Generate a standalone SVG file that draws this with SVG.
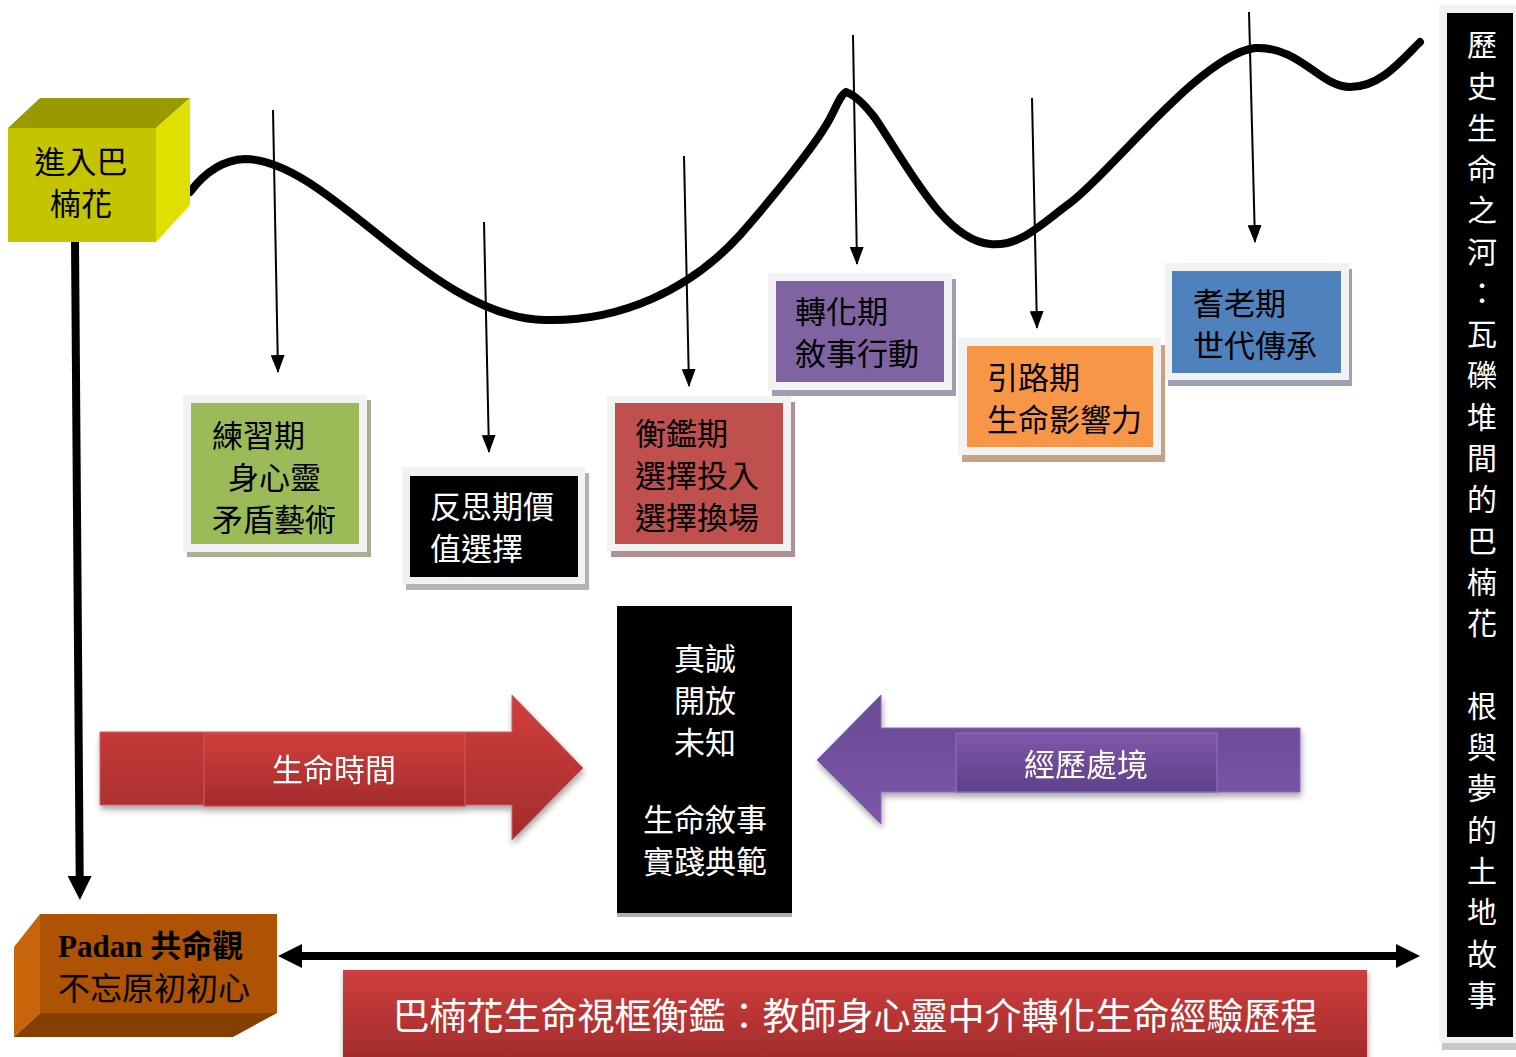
<svg xmlns="http://www.w3.org/2000/svg" width="1516" height="1057" viewBox="0 0 1516 1057">
<style>
.t{font-family:"Noto Sans CJK TC","Noto Sans CJK SC",sans-serif;font-size:31px}
.k{fill:#000}
.w{fill:#fff}
.frame{fill:#f2f2f2}
.thin{stroke:#000;stroke-width:2;fill:none}
.thick{stroke:#000;stroke-width:8;fill:none}
</style>
<defs>
<marker id="ah" viewBox="0 0 18 14" refX="17" refY="7" markerWidth="18" markerHeight="14" orient="auto" markerUnits="userSpaceOnUse"><path d="M0,0 L18,7 L0,14 z" fill="#000"/></marker>
<marker id="ahb" viewBox="0 0 24 24" refX="2" refY="12" markerWidth="24" markerHeight="24" orient="auto-start-reverse" markerUnits="userSpaceOnUse"><path d="M0,0 L24,12 L0,24 z" fill="#000"/></marker>
<linearGradient id="gRed" x1="0" y1="0" x2="0" y2="1"><stop offset="0" stop-color="#d03f3d"/><stop offset="1" stop-color="#a32b2b"/></linearGradient>
<linearGradient id="gPur" x1="0" y1="0" x2="0" y2="1"><stop offset="0" stop-color="#7f58aa"/><stop offset="1" stop-color="#5f4088"/></linearGradient>
<linearGradient id="gPurHead" x1="0" y1="0" x2="0" y2="1"><stop offset="0" stop-color="#6a4a95"/><stop offset="1" stop-color="#7c56aa"/></linearGradient>
<linearGradient id="gBan" x1="0" y1="0" x2="0" y2="1"><stop offset="0" stop-color="#cf3f3e"/><stop offset="1" stop-color="#a02a2a"/></linearGradient>
<filter id="sh" x="-10%" y="-10%" width="125%" height="135%"><feDropShadow dx="1" dy="4" stdDeviation="3" flood-color="#000" flood-opacity="0.35"/></filter>
</defs>

<g id="connectors">
<path class="thick" stroke-width="7" stroke-linecap="round" d="M190,192 C205,172 222,160 245,159 C330,160 430,318 545,320 C620,322 690,290 740,235 C775,195 815,145 828,122 C835,110 840,95 846,92 C855,95 865,105 875,118 C910,170 945,240 990,244 C1020,247 1040,225 1070,203 C1110,174 1200,55 1255,48 C1300,46 1320,87 1350,87 C1380,87 1400,62 1420,42"/>
<line class="thin" x1="273" y1="110" x2="278" y2="372" marker-end="url(#ah)"/>
<line class="thin" x1="484" y1="222" x2="489" y2="452" marker-end="url(#ah)"/>
<line class="thin" x1="684" y1="156" x2="689" y2="386" marker-end="url(#ah)"/>
<line class="thin" x1="853" y1="35" x2="857" y2="264" marker-end="url(#ah)"/>
<line class="thin" x1="1032" y1="98" x2="1037" y2="328" marker-end="url(#ah)"/>
<line class="thin" x1="1249" y1="12" x2="1255" y2="242" marker-end="url(#ah)"/>
<line class="thick" x1="75" y1="240" x2="79.7" y2="878" marker-end="url(#ahb)"/>
<line class="thick" x1="300" y1="956" x2="1398" y2="956" marker-start="url(#ahb)" marker-end="url(#ahb)"/>
</g>

<g id="node-enter">
<polygon points="8,128 40,98 190,98 156,128" fill="#999900"/>
<polygon points="156,128 190,98 190,205 156,242" fill="#e0e000"/>
<rect x="8" y="128" width="148" height="114" fill="#c4c400"/>
<text class="t k" x="81" y="173" text-anchor="middle">進入巴</text>
<text class="t k" x="81" y="215" text-anchor="middle">楠花</text>
</g>

<g id="node-padan">
<polygon points="14,947 40,914 40,1013 14,1037" fill="#c8650b"/>
<polygon points="40,1013 277,1013 233,1037 14,1037" fill="#854000"/>
<rect x="40" y="914" width="237" height="99" fill="#ae5203"/>
<text x="58" y="957" font-size="31" font-weight="bold" font-family="'Liberation Serif','Noto Sans CJK TC',serif" fill="#000">Padan <tspan font-family="'Noto Sans CJK TC',sans-serif">共命觀</tspan></text>
<text class="t k" x="58" y="1000" style="font-size:32px">不忘原初初心</text>
</g>

<g id="node-practice">
<rect x="187" y="400" width="184" height="157" fill="#a8b090"/>
<rect class="frame" x="183" y="395" width="184" height="157"/>
<rect x="191" y="403" width="168" height="141" fill="#9bbb59"/>
<text class="t k" x="212" y="447">練習期</text>
<text class="t k" x="228" y="489">身心靈</text>
<text class="t k" x="212" y="531">矛盾藝術</text>
</g>

<g id="node-reflect">
<rect x="406" y="473" width="183" height="117" fill="#b4b4b4"/>
<rect class="frame" x="402" y="467" width="183" height="117"/>
<rect x="410" y="476" width="168" height="101" fill="#000"/>
<text class="t w" x="430" y="518">反思期價</text>
<text class="t w" x="430" y="560">值選擇</text>
</g>

<g id="node-balance">
<rect x="611" y="402" width="184" height="155" fill="#b09090"/>
<rect class="frame" x="607" y="396" width="184" height="155"/>
<rect x="615" y="403" width="168" height="141" fill="#c0504d"/>
<text class="t k" x="635" y="445">衡鑑期</text>
<text class="t k" x="635" y="487">選擇投入</text>
<text class="t k" x="635" y="529">選擇換場</text>
</g>

<g id="node-transform">
<rect x="772" y="279" width="184" height="117" fill="#a29cb2"/>
<rect class="frame" x="768" y="273" width="184" height="117"/>
<rect x="776" y="281" width="168" height="101" fill="#8064a2"/>
<text class="t k" x="795" y="323">轉化期</text>
<text class="t k" x="795" y="365">敘事行動</text>
</g>

<g id="node-guide">
<rect x="962" y="345" width="203" height="117" fill="#c9a184"/>
<rect class="frame" x="958" y="338" width="203" height="117"/>
<rect x="967" y="346" width="186" height="101" fill="#f79646"/>
<text class="t k" x="987" y="389">引路期</text>
<text class="t k" x="987" y="431">生命影響力</text>
</g>

<g id="node-elder">
<rect x="1168" y="269" width="184" height="117" fill="#9aa2b4"/>
<rect class="frame" x="1165" y="263" width="184" height="117"/>
<rect x="1172" y="271" width="169" height="102" fill="#4f81bd"/>
<text class="t k" x="1193" y="315">耆老期</text>
<text class="t k" x="1193" y="357">世代傳承</text>
</g>

<g id="node-center">
<rect x="617" y="610" width="175" height="307" fill="#b0b0b0"/>
<rect x="617" y="606" width="175" height="307" fill="#000"/>
<g class="t w" text-anchor="middle">
<text x="705" y="670">真誠</text>
<text x="705" y="712">開放</text>
<text x="705" y="754">未知</text>
<text x="705" y="831">生命敘事</text>
<text x="705" y="873">實踐典範</text>
</g>
</g>

<g id="node-lifetime" filter="url(#sh)">
<polygon points="100,732 512,732 512,695 583,768 512,840 512,805 100,805" fill="url(#gRed)" stroke="#d06060" stroke-width="1"/>
<rect x="204" y="733" width="261" height="73" fill="url(#gRed)" stroke="#c85050" stroke-width="1.5"/>
<text class="t w" x="334" y="781" text-anchor="middle">生命時間</text>
</g>

<g id="node-experience" filter="url(#sh)">
<polygon points="1300,728 881,728 881,695 817,760 881,824 881,792 1300,792" fill="url(#gPurHead)" stroke="#8a6ab5" stroke-width="1"/>
<rect x="956" y="733" width="261" height="59" fill="url(#gPur)" stroke="#8a68b5" stroke-width="1.5"/>
<text class="t w" x="1086" y="776" text-anchor="middle">經歷處境</text>
</g>

<g id="node-banner">
<rect x="343" y="970" width="1024" height="95" fill="url(#gBan)" filter="url(#sh)"/>
<text class="t w" x="855" y="1030" text-anchor="middle" style="font-size:37px">巴楠花生命視框衡鑑：教師身心靈中介轉化生命經驗歷程</text>
</g>

<g id="node-river">
<rect x="1442" y="1040" width="74" height="10" fill="#c8c8c8"/>
<rect x="1439" y="5" width="77" height="1038" fill="#f2f2f2"/>
<rect x="1447" y="13" width="66" height="1024" fill="#000"/>
<text class="t w" text-anchor="middle" style="font-size:30px">
<tspan x="1482" y="56">歷</tspan><tspan x="1482" dy="41.3">史</tspan><tspan x="1482" dy="41.3">生</tspan><tspan x="1482" dy="41.3">命</tspan><tspan x="1482" dy="41.3">之</tspan><tspan x="1482" dy="41.3">河</tspan><tspan x="1482" dy="41.3">：</tspan><tspan x="1482" dy="41.3">瓦</tspan><tspan x="1482" dy="41.3">礫</tspan><tspan x="1482" dy="41.3">堆</tspan><tspan x="1482" dy="41.3">間</tspan><tspan x="1482" dy="41.3">的</tspan><tspan x="1482" dy="41.3">巴</tspan><tspan x="1482" dy="41.3">楠</tspan><tspan x="1482" dy="41.3">花</tspan><tspan x="1482" dy="82.6">根</tspan><tspan x="1482" dy="41.3">與</tspan><tspan x="1482" dy="41.3">夢</tspan><tspan x="1482" dy="41.3">的</tspan><tspan x="1482" dy="41.3">土</tspan><tspan x="1482" dy="41.3">地</tspan><tspan x="1482" dy="41.3">故</tspan><tspan x="1482" dy="41.3">事</tspan>
</text>
</g>
</svg>
